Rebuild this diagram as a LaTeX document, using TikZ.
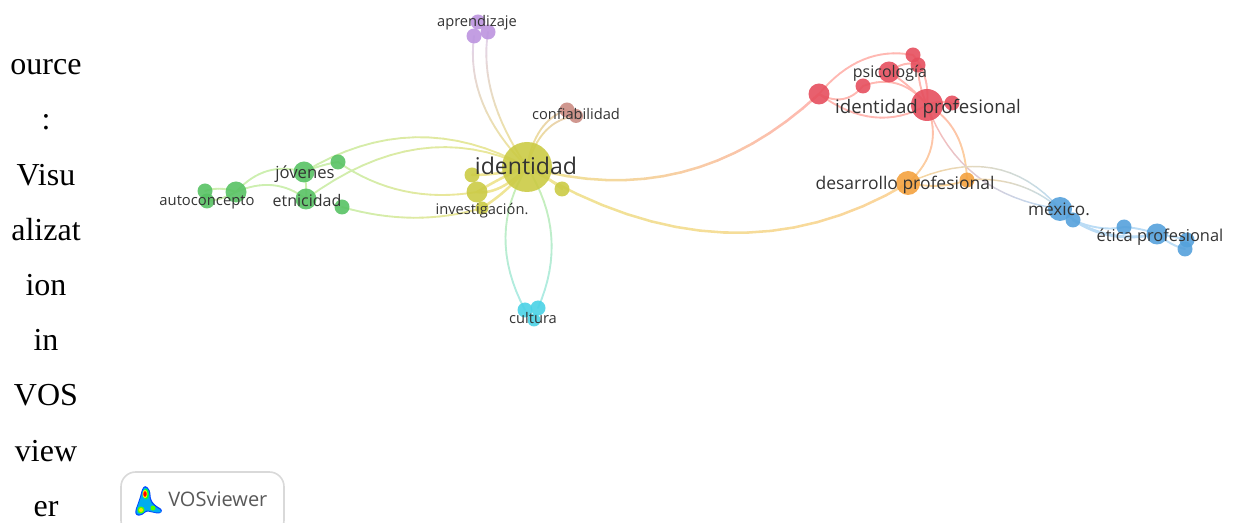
\documentclass[tikz,border=0pt]{standalone}
\usepackage{fontspec}
\setmainfont{Liberation Serif}
\newfontfamily\labelfont{Open Sans}
\usetikzlibrary{backgrounds,calc}
\definecolor{cyellow}{HTML}{CBCB45}
\definecolor{cgreen}{HTML}{58C264}
\definecolor{cred}{HTML}{E64F5E}
\definecolor{corange}{HTML}{F4A23F}
\definecolor{cblue}{HTML}{55A1DB}
\definecolor{cpurple}{HTML}{BC94DF}
\definecolor{cbrown}{HTML}{CB8C83}
\definecolor{ccyan}{HTML}{4AD2E6}
\definecolor{lyellow}{HTML}{EFE596}
\definecolor{lgreen}{HTML}{CDEFB0}
\definecolor{lred}{HTML}{FFB8B2}
\definecolor{lorange}{HTML}{FBD59C}
\definecolor{lblue}{HTML}{BBDCF5}
\definecolor{lpurple}{HTML}{E2D2EE}
\definecolor{lbrown}{HTML}{E8CDB8}
\definecolor{lcyan}{HTML}{ACEBE8}
\tikzset{
	bub/.style={circle,inner sep=0pt,minimum size=2*#1*.75pt,fill opacity=.9},
	word/.style={font=\labelfont\fontsize{#1}{#1}\selectfont,text=black!80,inner sep=0pt},
	side/.style={font=\fontsize{24}{24}\selectfont,inner sep=0pt,anchor=base},
}
% curve from node to node through one control point, colour running from #5 to #6
\newcommand{\linkcurve}[6][1.4pt]{
	\coordinate (ctrl) at (#3);
	\foreach \n in {1,...,16}{
		\pgfmathsetmacro\tb{\n/16}
		\pgfmathsetmacro\ta{(\n-1)/16}
		\pgfmathsetmacro\mix{100-100*(\n-.5)/16}
		\draw[line width=#1,line cap=round,#5!\mix!#6]
			($($(#2.center)!\ta!(ctrl)$)!\ta!($(ctrl)!\ta!(#4.center)$)$)--
			($($(#2.center)!\tb!(ctrl)$)!\tb!($(ctrl)!\tb!(#4.center)$)$);
	}
}
\begin{document}
\begin{tikzpicture}[x=.75pt,y=-.75pt]
	\useasboundingbox(0,0)rectangle(1234,523);
	% side caption
	\foreach \t/\y in{ource/75,:/130,Visu/185.4,alizat/240.6,ion/295.8,in/351,VOS/406,view/461.4,er/516.6}{
		\node[side] at(46,\y){\t};
	}
	% yellow
	\node[bub=25,fill=cyellow](identidad)at(527,167){};
	\node[bub=7.5,fill=cyellow](yone)at(472,175){};
	\node[bub=10.5,fill=cyellow](investigacion)at(477,192){};
	\node[bub=6.5,fill=cyellow](ytwo)at(482,208){};
	\node[bub=7.5,fill=cyellow](ythree)at(562,189){};
	% green
	\node[bub=7.5,fill=cgreen](gone)at(205,191){};
	\node[bub=7.5,fill=cgreen](gtwo)at(207,201){};
	\node[bub=10.5,fill=cgreen](autoconcepto)at(236,192){};
	\node[bub=10.5,fill=cgreen](jovenes)at(304,172){};
	\node[bub=7.5,fill=cgreen](gthree)at(338,162){};
	\node[bub=10.5,fill=cgreen](etnicidad)at(306,199){};
	\node[bub=7.5,fill=cgreen](gfour)at(342,207){};
	% purple
	\node[bub=7.5,fill=cpurple](aprendizaje)at(478,22){};
	\node[bub=7.5,fill=cpurple](pone)at(488,32){};
	\node[bub=7.5,fill=cpurple](ptwo)at(474,36){};
	% brown
	\node[bub=7.5,fill=cbrown](confiabilidad)at(567,110){};
	\node[bub=7,fill=cbrown](bone)at(576,116){};
	% cyan
	\node[bub=7.5,fill=ccyan](cultura)at(525,310){};
	\node[bub=7.5,fill=ccyan](cone)at(538,308){};
	\node[bub=6.5,fill=ccyan](ctwo)at(534,320){};
	% red
	\node[bub=10.5,fill=cred](rone)at(819,94){};
	\node[bub=7.5,fill=cred](rtwo)at(863,86){};
	\node[bub=10.5,fill=cred](psicologia)at(889,72){};
	\node[bub=7.5,fill=cred](rthree)at(913,55){};
	\node[bub=7.5,fill=cred](rfour)at(918,65){};
	\node[bub=16,fill=cred](idprof)at(927,105){};
	\node[bub=7.5,fill=cred](rfive)at(952,103){};
	% orange
	\node[bub=12,fill=corange](desarrollo)at(908,183){};
	\node[bub=7.5,fill=corange](oone)at(967,180){};
	% blue
	\node[bub=12,fill=cblue](mexico)at(1060,209){};
	\node[bub=7.5,fill=cblue](uone)at(1073,220){};
	\node[bub=7.5,fill=cblue](utwo)at(1124,227){};
	\node[bub=10.5,fill=cblue](etica)at(1157,234){};
	\node[bub=7.5,fill=cblue](uthree)at(1187,240){};
	\node[bub=7.5,fill=cblue](ufour)at(1185,249){};
	% links
	\begin{pgfonlayer}{background}
		\linkcurve[1.9pt]{identidad}{690,214}{rone}{lyellow}{lred}
		\linkcurve[1.9pt]{identidad}{730,290}{desarrollo}{lyellow}{lorange}
		\linkcurve{identidad}{415,105}{jovenes}{lyellow}{lgreen}
		\linkcurve{identidad}{420,115}{etnicidad}{lyellow}{lgreen}
		\linkcurve{investigacion}{400,205}{gthree}{lyellow}{lgreen}
		\linkcurve{ytwo}{415,228}{gfour}{lyellow}{lgreen}
		\linkcurve{ptwo}{465,105}{identidad}{lpurple}{lyellow}
		\linkcurve{pone}{478,95}{identidad}{lpurple}{lyellow}
		\linkcurve{confiabilidad}{535,120}{identidad}{lbrown}{lyellow}
		\linkcurve{bone}{540,120}{identidad}{lbrown}{lyellow}
		\linkcurve{cultura}{485,235}{identidad}{lcyan}{lgreen}
		\linkcurve{cone}{570,235}{identidad}{lcyan}{lgreen}
		\linkcurve[1.9pt]{identidad}{500,175}{yone}{lyellow}{lyellow}
		\linkcurve[1.9pt]{identidad}{505,175}{investigacion}{lyellow}{lyellow}
		\linkcurve[1.9pt]{identidad}{500,195}{investigacion}{lyellow}{lyellow}
		\linkcurve[1.9pt]{identidad}{510,190}{ytwo}{lyellow}{lyellow}
		\linkcurve[1.9pt]{identidad}{545,175}{ythree}{lyellow}{lyellow}
		\linkcurve{autoconcepto}{265,160}{jovenes}{lgreen}{lgreen}
		\linkcurve{autoconcepto}{275,175}{etnicidad}{lgreen}{lgreen}
		\linkcurve{gone}{220,186}{autoconcepto}{lgreen}{lgreen}
		\linkcurve{gtwo}{222,200}{autoconcepto}{lgreen}{lgreen}
		\linkcurve{jovenes}{307,185}{etnicidad}{lgreen}{lgreen}
		\linkcurve{jovenes}{320,165}{gthree}{lgreen}{lgreen}
		\linkcurve{rone}{875,135}{idprof}{lred}{lred}
		\linkcurve{rone}{860,45}{rthree}{lred}{lred}
		\linkcurve{rone}{845,108}{rtwo}{lred}{lred}
		\linkcurve{rtwo}{900,72}{idprof}{lred}{lred}
		\linkcurve{psicologia}{910,85}{idprof}{lred}{lred}
		\linkcurve{psicologia}{905,60}{rfour}{lred}{lred}
		\linkcurve{rthree}{930,75}{idprof}{lred}{lred}
		\linkcurve{rfour}{918,85}{idprof}{lred}{lred}
		\linkcurve{idprof}{940,100}{rfive}{lred}{lred}
		\linkcurve{idprof}{945,150}{desarrollo}{lred}{lorange}
		\linkcurve{idprof}{965,125}{oone}{lred}{lorange}
		\linkcurve[1.1pt]{idprof}{960,195}{mexico}{lred}{lblue}
		\linkcurve{desarrollo}{940,190}{oone}{lorange}{lorange}
		\linkcurve[1.1pt]{desarrollo}{1000,140}{mexico}{lorange}{lblue}
		\linkcurve[1.1pt]{oone}{1020,175}{mexico}{lorange}{lblue}
		\linkcurve[1.6pt]{mexico}{1100,245}{etica}{lblue}{lblue}
		\linkcurve[1.6pt]{uone}{1110,245}{etica}{lblue}{lblue}
		\linkcurve{uone}{1100,232}{utwo}{lblue}{lblue}
		\linkcurve{utwo}{1140,228}{etica}{lblue}{lblue}
		\linkcurve{etica}{1172,236}{uthree}{lblue}{lblue}
		\linkcurve{etica}{1172,246}{ufour}{lblue}{lblue}
	\end{pgfonlayer}
	% labels
	\node[word=17.3](identidadtxt)at(526,166){identidad};
	\node[word=14](idproftxt)at(928,109){identidad profesional};
	\node[word=13.1](desarrollotxt)at(905,185){desarrollo profesional};
	\node[word=12](psicologiatxt)at(890,73){psicología};
	\node[word=11](confiabilidadtxt)at(576,114){confiabilidad};
	\node[word=11](aprendizajetxt)at(477,23){aprendizaje};
	\node[word=11](investigaciontxt)at(482,211){investigación.};
	\node[word=11](culturatxt)at(533,318){cultura};
	\node[word=11.1](autoconceptotxt)at(207,202){autoconcepto};
	\node[word=12.5](jovenestxt)at(305,174){jóvenes};
	\node[word=12](etnicidadtxt)at(307,201){etnicidad};
	\node[word=12.9](mexicotxt)at(1059,209){méxico.};
	\node[word=12.3](eticatxt)at(1160,237){ética profesional};
	% logo
	\draw[black!15,line width=1.2pt,fill=white,rounded corners=11pt](121,472)rectangle(284,535);
	\fill[blue!70!cyan,rounded corners=2pt](145,485)--(150,490)--(151,500)--(155,505)--(163,510)--(160,514)--(150,512)--(146,511)--(143,515)--(136,516)--(135,511)--(138,503)--(140,497)--(142,489)--cycle;
	\fill[cyan,rounded corners=2pt](145,486.5)--(149,491)--(150,501)--(154,506)--(162,511)--(159,513)--(150,511)--(146,510)--(142,514)--(137,515)--(136,511)--(139,503)--(141,497)--(143,490)--cycle;
	\fill[green!80!cyan](146,494)circle[x radius=3,y radius=5.5];
	\fill[green!70!yellow](141,510)circle[radius=3.5];
	\fill[green!70!yellow](153,508)circle[radius=2.5];
	\fill[yellow](145,494)circle[x radius=2.5,y radius=4.2];
	\fill[yellow!80!orange](141,510)circle[radius=2];
	\fill[red](145,494)circle[x radius=1.7,y radius=2.8];
	\node[word=15,text=black!65,anchor=west](vostxt)at(168,499){VOSviewer};
\end{tikzpicture}
\end{document}
